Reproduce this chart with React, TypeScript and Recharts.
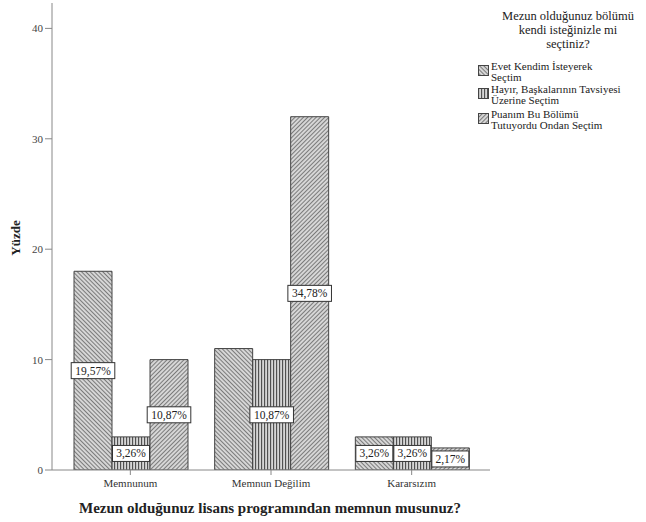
import { BarChart, Bar, XAxis, YAxis, LabelList, Label } from 'recharts';

const categories = ['Memnunum', 'Memnun Değilim', 'Kararsızım'];
const evetValues = [18, 11, 3];
const hayirValues = [3, 10, 3];
const puanValues = [10, 32, 2];
const evetLabels = ['19,57%', '', '3,26%'];
const hayirLabels = ['3,26%', '10,87%', '3,26%'];
const puanLabels = ['10,87%', '34,78%', '2,17%'];
const yTicks = [0, 10, 20, 30, 40];

const legendTitle = ['Mezun olduğunuz bölümü', 'kendi isteğinizle mi', 'seçtiniz?'];
const seriesNames = [
  ['Evet Kendim İsteyerek', 'Seçtim'],
  ['Hayır, Başkalarının Tavsiyesi', 'Üzerine Seçtim'],
  ['Puanım Bu Bölümü', 'Tutuyordu Ondan Seçtim'],
];

const data = categories.map((name, i) => ({
  name,
  evet: evetValues[i],
  hayir: hayirValues[i],
  puan: puanValues[i],
  evetLabel: evetLabels[i],
  hayirLabel: hayirLabels[i],
  puanLabel: puanLabels[i],
}));

const FONT = '"Liberation Serif", "DejaVu Serif", serif';
const patternIds = ['hatchBack', 'hatchVert', 'hatchFwd'];

function Patterns() {
  return (
    <defs>
      <pattern id="hatchBack" patternUnits="userSpaceOnUse" width="3" height="3" patternTransform="rotate(-45)">
        <rect width="3" height="3" fill="#d6d6d6" />
        <line x1="0" y1="0" x2="0" y2="3" stroke="#4a4a4a" strokeWidth="1.3" />
      </pattern>
      <pattern id="hatchVert" patternUnits="userSpaceOnUse" width="3" height="3">
        <rect width="3" height="3" fill="#d6d6d6" />
        <line x1="0.6" y1="0" x2="0.6" y2="3" stroke="#4a4a4a" strokeWidth="1.1" />
      </pattern>
      <pattern id="hatchFwd" patternUnits="userSpaceOnUse" width="3" height="3" patternTransform="rotate(45)">
        <rect width="3" height="3" fill="#d6d6d6" />
        <line x1="0" y1="0" x2="0" y2="3" stroke="#4a4a4a" strokeWidth="1.3" />
      </pattern>
    </defs>
  );
}

const renderBoxLabel = (props: any) => {
  const { x, y, width, height, value } = props;
  if (!value) return null;
  const cx = Number(x) + Number(width) / 2;
  const cy = Number(y) + Number(height) / 2;
  const w = String(value).length * 6.6 + 4;
  const h = 16;
  return (
    <g>
      <rect x={cx - w / 2} y={cy - h / 2} width={w} height={h} fill="#fff" stroke="#333" strokeWidth={1} />
      <text x={cx} y={cy} dy="0.35em" textAnchor="middle" fontSize={11.5} fontFamily={FONT} fill="#222">
        {value}
      </text>
    </g>
  );
};

function LegendBox() {
  return (
    <div style={{ position: 'absolute', left: 470, top: 0, width: 176, fontFamily: FONT, color: '#222' }}>
      <div style={{ position: 'absolute', left: 0, top: 9, width: 196, textAlign: 'center', fontSize: 12.5, lineHeight: '14px' }}>
        {legendTitle.map((t) => (
          <div key={t}>{t}</div>
        ))}
      </div>
      {seriesNames.map((lines, i) => (
        <div key={i} style={{ position: 'absolute', left: 8, top: [61, 84, 109][i], display: 'flex' }}>
          <svg width={12} height={12} style={{ marginTop: 4, marginRight: 1, flex: 'none' }}>
            <rect x={0.5} y={0.5} width={10} height={10} fill={`url(#${patternIds[i]})`} stroke="#444" />
          </svg>
          <div style={{ fontSize: 11, lineHeight: '11px', whiteSpace: 'nowrap' }}>
            {lines.map((l) => (
              <div key={l}>{l}</div>
            ))}
          </div>
        </div>
      ))}
    </div>
  );
}

export default function App() {
  return (
    <div style={{ position: 'absolute', left: 0, top: 0, width: 646, height: 522, background: '#fff', overflow: 'hidden' }}>
      <BarChart
        width={646}
        height={522}
        data={data}
        margin={{ top: 3, right: 156, bottom: 0, left: 0 }}
        barCategoryGap={14}
        barGap={0}
      >
        <Patterns />
        <XAxis
          dataKey="name"
          height={52}
          padding={{ left: 8, right: 8 }}
          stroke="#888"
          tickSize={5}
          tickMargin={4}
          tick={{ fontSize: 11, fontFamily: FONT, fill: '#333' }}
        >
          <Label
            content={(p: any) => {
              const vb = p.viewBox || {};
              return (
                <text
                  x={vb.x + vb.width / 2 - 1}
                  y={vb.y + 38}
                  dy="0.35em"
                  textAnchor="middle"
                  fontSize={15}
                  fontWeight="bold"
                  fontFamily={FONT}
                  fill="#222"
                >
                  Mezun olduğunuz lisans programından memnun musunuz?
                </text>
              );
            }}
          />
        </XAxis>
        <YAxis
          width={52}
          domain={[0, 42.3]}
          ticks={yTicks}
          allowDataOverflow
          stroke="#888"
          tickSize={7}
          tickMargin={2}
          tick={{ fontSize: 11, fontFamily: FONT, fill: '#444' }}
        >
          <Label
            content={() => (
              <text
                x={15}
                y={238}
                transform="rotate(-90 15 238)"
                dy="0.35em"
                textAnchor="middle"
                fontSize={13}
                fontWeight="bold"
                fontFamily={FONT}
                fill="#222"
              >
                Yüzde
              </text>
            )}
          />
        </YAxis>
        <Bar dataKey="evet" fill="url(#hatchBack)" stroke="#444" strokeWidth={1} isAnimationActive={false}>
          <LabelList dataKey="evetLabel" content={renderBoxLabel} />
        </Bar>
        <Bar dataKey="hayir" fill="url(#hatchVert)" stroke="#444" strokeWidth={1} isAnimationActive={false}>
          <LabelList dataKey="hayirLabel" content={renderBoxLabel} />
        </Bar>
        <Bar dataKey="puan" fill="url(#hatchFwd)" stroke="#444" strokeWidth={1} isAnimationActive={false}>
          <LabelList dataKey="puanLabel" content={renderBoxLabel} />
        </Bar>
      </BarChart>
      <LegendBox />
    </div>
  );
}
